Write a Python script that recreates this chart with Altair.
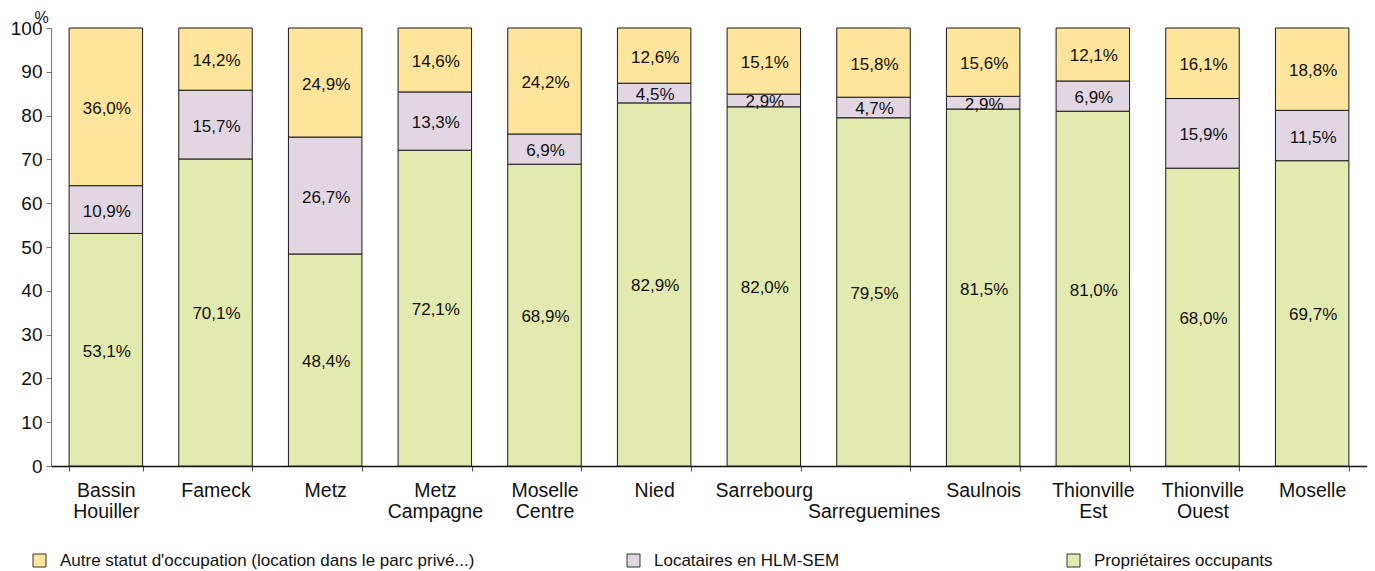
import altair as alt
import pandas as pd

zones = ["Bassin Houiller", "Fameck", "Metz", "Metz Campagne", "Moselle Centre", "Nied",
         "Sarrebourg", "Sarreguemines", "Saulnois", "Thionville Est", "Thionville Ouest", "Moselle"]
proprietaires = [53.1, 70.1, 48.4, 72.1, 68.9, 82.9, 82.0, 79.5, 81.5, 81.0, 68.0, 69.7]
hlm = [10.9, 15.7, 26.7, 13.3, 6.9, 4.5, 2.9, 4.7, 2.9, 6.9, 15.9, 11.5]
autre = [36.0, 14.2, 24.9, 14.6, 24.2, 12.6, 15.1, 15.8, 15.6, 12.1, 16.1, 18.8]

cats = ["Autre statut d'occupation (location dans le parc privé...)",
        "Locataires en HLM-SEM",
        "Propriétaires occupants"]
colors = ["#FFE49C", "#E1D6E1", "#E3EAB0"]
y_ticks = [0, 10, 20, 30, 40, 50, 60, 70, 80, 90, 100]

rows = []
for i, z in enumerate(zones):
    for cat, vals, o in [(cats[2], proprietaires, 0), (cats[1], hlm, 1), (cats[0], autre, 2)]:
        rows.append({"zone": z, "cat": cat, "value": vals[i], "ord": o})
df = pd.DataFrame(rows)

FONT = "Liberation Sans"

x_axis = alt.Axis(
    title=None, labelAngle=0, labelFontSize=19.5, labelFont=FONT, labelColor="#111",
    labelLineHeight=21, labelPadding=10, tickBand="extent", tickSize=5, tickColor="#555",
    domainColor="#111", domainWidth=1.5,
    labelExpr="!isValid(datum.value) ? '' : (datum.value == 'Sarreguemines' ? ['', 'Sarreguemines'] : split(datum.value, ' '))",
)
y_axis = alt.Axis(
    title="%", titleAngle=0, titleX=-10, titleY=-19, titleAlign="center", titleBaseline="top",
    titleFontSize=16, titleFont=FONT, titleFontWeight="normal", titleColor="#111",
    values=y_ticks, labelFontSize=19, labelFont=FONT, labelColor="#111", labelPadding=4,
    tickSize=5, tickColor="#777", domainColor="#777", grid=False,
)

x_enc = alt.X("zone:N", sort=zones, scale=alt.Scale(paddingInner=0.33, paddingOuter=0.165), axis=x_axis)
y_scale = alt.Scale(domain=[0, 100], nice=False)

base = alt.Chart(df).transform_stack(
    stack="value", as_=["y0", "y1"], groupby=["zone"], sort=[alt.SortField("ord", order="ascending")]
).transform_calculate(
    mid="(datum.y0 + datum.y1) / 2",
    lab="replace(format(datum.value, '.1f'), '.', ',') + '%'",
)

pad = "\u00a0" * 16 + "\u200b"
legend_expr = "datum.value == 'Locataires en HLM-SEM' ? datum.label + '" + pad + "' : datum.label"

bars = base.mark_bar(stroke="#1a1a1a", strokeWidth=1, opacity=1).encode(
    x=x_enc,
    y=alt.Y("y0:Q", scale=y_scale, axis=y_axis),
    y2="y1:Q",
    color=alt.Color(
        "cat:N",
        scale=alt.Scale(domain=cats, range=colors),
        legend=alt.Legend(
            title=None, orient="none", legendX=-20, legendY=524, direction="horizontal",
            columns=3, symbolType="square", symbolSize=169, symbolStrokeColor="#333",
            symbolStrokeWidth=1, symbolOpacity=1, labelFontSize=17, labelFont=FONT,
            labelColor="#111", labelLimit=900, labelOffset=12, columnPadding=150, padding=0,
            labelExpr=legend_expr,
        ),
    ),
)

texts = base.mark_text(fontSize=17, font=FONT, color="#111", dx=1, dy=2).encode(
    x=x_enc,
    y=alt.Y("mid:Q", scale=y_scale, axis=y_axis),
    text="lab:N",
)

chart = alt.layer(bars, texts).properties(
    width=1316, height=438,
    padding={"left": 43, "top": 20, "right": 0, "bottom": 105},
    autosize=alt.AutoSizeParams(type="none"),
).configure_view(stroke=None)

chart.save("out.html", embed_options={"renderer": "svg", "actions": False})
